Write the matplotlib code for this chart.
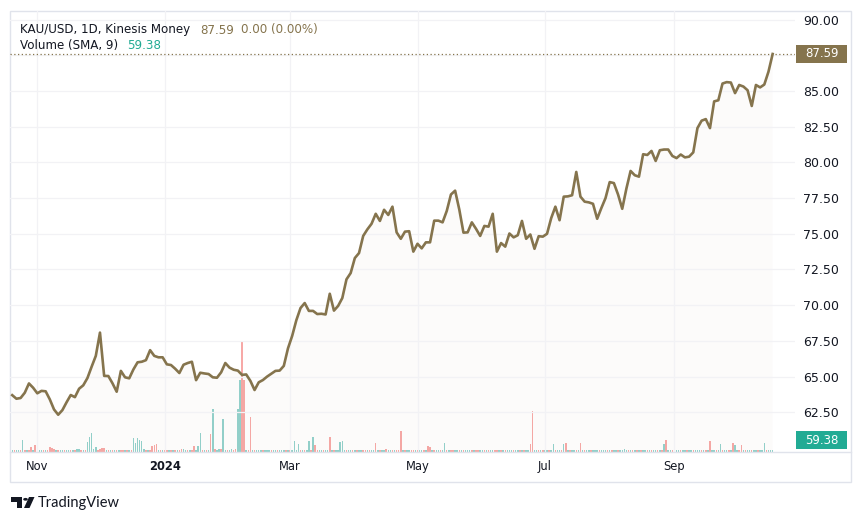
import numpy as np
import pandas as pd
import matplotlib
matplotlib.use("Agg")
import matplotlib.pyplot as plt
import matplotlib.dates as mdates
from matplotlib.patches import Rectangle, Polygon, Circle
from matplotlib.lines import Line2D

# KAU/USD close, one value every 2 days from 2023-10-20
price = [
    63.70, 63.45, 63.50, 63.87, 64.52, 64.22, 63.83, 64.00, 63.97, 63.40,
    62.70, 62.33, 62.65, 63.20, 63.71, 63.56, 64.15, 64.39, 64.90, 65.69,
    66.45, 68.08, 65.05, 65.04, 64.53, 63.94, 65.40, 64.95, 64.88, 65.50,
    66.00, 66.04, 66.15, 66.85, 66.45, 66.35, 66.35, 65.86, 65.81, 65.55,
    65.25, 65.83, 65.95, 66.04, 64.75, 65.27, 65.22, 65.18, 64.95, 64.92,
    65.30, 65.95, 65.63, 65.48, 65.42, 65.12, 65.15, 64.70, 64.06, 64.60,
    64.76, 65.00, 65.20, 65.40, 65.42, 65.75, 66.98, 67.85, 68.95, 69.80,
    70.15, 69.60, 69.60, 69.38, 69.40, 69.35, 70.80, 69.62, 69.95, 70.50,
    71.81, 72.25, 73.30, 73.65, 74.85, 75.31, 75.70, 76.40, 75.90, 76.68,
    76.32, 76.90, 75.10, 74.65, 75.15, 75.18, 73.75, 74.30, 73.98, 74.40,
    74.40, 75.92, 75.92, 75.80, 76.60, 77.75, 78.02, 76.70, 75.08, 75.10,
    75.80, 75.35, 74.85, 75.55, 75.50, 76.40, 73.75, 74.35, 74.10, 75.02,
    74.75, 74.90, 75.90, 74.65, 74.95, 73.95, 74.83, 74.80, 75.00, 76.10,
    76.90, 75.95, 77.60, 77.62, 77.70, 79.33, 77.60, 77.25, 77.20, 77.10,
    76.05, 76.80, 77.50, 78.62, 78.55, 77.75, 76.75, 78.17, 79.40, 79.10,
    79.00, 80.57, 80.52, 80.80, 80.10, 80.85, 80.90, 80.90, 80.45, 80.30,
    80.55, 80.35, 80.40, 80.70, 82.40, 82.92, 83.03, 82.40, 84.27, 84.35,
    85.52, 85.62, 85.59, 84.85, 85.42, 85.31, 85.05, 83.95, 85.42, 85.25,
    85.45, 86.35, 87.59,
]
price_dates = pd.date_range("2023-10-20", periods=len(price), freq="2D")

# daily volume from 2023-10-19
volume = [
    10, 10, 10, 10, 10, 10, 58, 10, 10, 10, 25, 10, 35, 35, 10, 10, 10, 10, 10, 25,
    20, 15, 10, 10, 10, 10, 10, 10, 10, 10, 10, 10, 15, 13, 10, 10, 10, 50, 75, 95,
    13, 25, 10, 13, 18, 18, 10, 10, 10, 10, 10, 10, 10, 10, 10, 10, 10, 10, 10, 70,
    45, 70, 58, 55, 13, 10, 10, 10, 30, 35, 42, 10, 10, 10, 10, 10, 10, 10, 10, 10,
    10, 10, 13, 13, 10, 10, 10, 10, 30, 10, 30, 97, 10, 10, 10, 10, 92, 217, 13, 10,
    13, 13, 167, 10, 10, 10, 13, 10, 13, 217, 360, 550, 360, 10, 10, 175, 10, 10, 10, 10,
    10, 10, 10, 10, 10, 10, 10, 10, 10, 10, 10, 10, 10, 10, 10, 10, 53, 10, 40, 10,
    10, 10, 10, 53, 12, 73, 33, 10, 10, 10, 10, 10, 10, 73, 10, 10, 10, 10, 48, 53,
    10, 10, 10, 10, 10, 10, 10, 10, 10, 10, 10, 10, 10, 10, 10, 45, 10, 10, 10, 10,
    17, 10, 10, 10, 10, 10, 10, 103, 10, 10, 10, 10, 10, 10, 10, 10, 10, 10, 10, 10,
    28, 23, 10, 10, 10, 10, 10, 10, 45, 10, 10, 10, 10, 10, 10, 10, 10, 10, 10, 10,
    10, 10, 10, 10, 10, 10, 10, 10, 10, 10, 10, 10, 10, 10, 10, 10, 10, 10, 10, 10,
    10, 10, 10, 10, 10, 10, 10, 10, 10, 40, 203, 10, 10, 10, 10, 10, 10, 10, 10, 10,
    40, 10, 10, 10, 10, 40, 45, 10, 10, 10, 10, 10, 10, 45, 10, 10, 10, 10, 10, 10,
    10, 10, 10, 10, 10, 10, 10, 10, 10, 10, 10, 10, 10, 10, 15, 10, 10, 10, 10, 10,
    10, 10, 10, 10, 10, 10, 10, 10, 10, 10, 10, 10, 10, 40, 58, 10, 10, 10, 10, 10,
    10, 10, 10, 10, 10, 10, 10, 10, 10, 10, 10, 10, 10, 10, 10, 53, 10, 10, 10, 10,
    40, 10, 10, 10, 10, 10, 45, 33, 10, 10, 33, 10, 10, 10, 10, 10, 10, 10, 10, 10,
    10, 45, 10, 10, 10, 10,
]
# g = up day, r = down day
vol_dir = (
    "ggrggrgrgrrgrrggrgrr" "rrgrggrggrgrggrgrggg" "ggrrrrgrgrgrgrrgrgrg"
    "gggggrgrrrrgrgrrgrgr" "grrggrgrrgggrgrgrgrg" "grggrggrrggrrgrrgrgg"
    "grgggrggrgggrgrggggr" "grggrgrrggrggrgrgggg" "grggrgrggrrgrggrgrgg"
    "rggrgrrrgrggrrgrggrg" "rrgrggrggrgrrggrgrgg" "grgrrggrgrggrrgrgrgg"
    "grggrgrggrrggrgrggrg" "grggrgrgrggrgrgrggrg" "ggrgggrgrggrggggrgrg"
    "rgrggrgrggrgrgrggrgg" "grggrggrgggrgrgrggrg" "grggrgrggrrgrggrggrg"
    "ggrggg"
)
vol_dates = pd.date_range("2023-10-19", periods=len(volume), freq="D")

tick_dates = ["2023-11-01", "2024-01-01", "2024-03-01", "2024-05-01", "2024-07-01", "2024-09-01"]
tick_labels = ["Nov", "2024", "Mar", "May", "Jul", "Sep"]
price_ticks = [62.5, 65.0, 67.5, 70.0, 72.5, 75.0, 77.5, 80.0, 82.5, 85.0, 87.5, 90.0]
last_price = 87.59
vol_sma = 59.38

GOLD = "#85744d"
TEAL = "#22ab94"
TXT = "#131722"
GRID = "#f2f2f5"
FRAME = "#e0e3eb"
UP, DOWN = "#93d2cc", "#f7a9a7"

W, H = 863, 522
fx = lambda px: px / W
fy = lambda py: 1 - py / H

fig = plt.figure(figsize=(W / 100, H / 100), dpi=100)
fig.patch.set_facecolor("white")

ax = fig.add_axes([fx(10), fy(452), fx(795) - fx(10), fy(11) - fy(452)])
axv = ax.twinx()
ax.set_zorder(axv.get_zorder() + 1)
ax.patch.set_visible(False)

# volume
axv.bar(vol_dates, volume, width=0.7, linewidth=0,
        color=[UP if c == "g" else DOWN for c in vol_dir])
axv.set_ylim(0, 2205)
axv.set_yticks([])
for s in axv.spines.values():
    s.set_visible(False)

# price
ax.fill_between(price_dates, price, 0, color=GOLD, alpha=0.025, linewidth=0)
ax.plot(price_dates, price, color=GOLD, lw=1.9, solid_joinstyle="round")
ax.axhline(last_price, color=GOLD, lw=0.9, ls=(0, (1, 2)))

x0 = mdates.date2num(pd.Timestamp("2023-10-19"))
ax.set_xlim(x0 - 0.07, x0 + 375.7)
ax.set_ylim(59.72, 90.60)

ax.set_xticks(mdates.date2num(pd.to_datetime(tick_dates)))
ax.set_xticklabels(tick_labels)
for lab in ax.get_xticklabels():
    if lab.get_text() == "2024":
        lab.set_fontweight("bold")
ax.yaxis.tick_right()
ax.set_yticks(price_ticks)
# the 87.50 label is hidden behind the last-price tag, as on the scale
ax.set_yticklabels(["" if abs(v - last_price) < 1 else f"{v:.2f}" for v in price_ticks])
ax.tick_params(axis="x", length=0, pad=6, labelsize=8.3, labelcolor=TXT)
ax.tick_params(axis="y", length=0, pad=5.8, labelsize=9, labelcolor=TXT)
ax.grid(color=GRID, lw=0.9)
for s in ax.spines.values():
    s.set_visible(False)

# last value labels on the scale
ytr = ax.get_yaxis_transform()
ax.add_patch(Rectangle((1.0013, last_price - 0.63), 0.065, 1.26, transform=ytr,
                       facecolor=GOLD, edgecolor="none", clip_on=False))
ax.text(1.0338, last_price, f"{last_price:.2f}", transform=ytr, ha="center",
        va="center", color="white", fontsize=8.5)
vtr = axv.get_yaxis_transform()
axv.add_patch(Rectangle((1.0013, vol_sma - 45), 0.065, 90, transform=vtr,
                        facecolor=TEAL, edgecolor="none", clip_on=False))
axv.text(1.0338, vol_sma, f"{vol_sma:.2f}", transform=vtr, ha="center",
         va="center", color="white", fontsize=8.5)

# frame
fig.add_artist(Rectangle((fx(10), fy(482)), fx(851) - fx(10), fy(11) - fy(482),
                         transform=fig.transFigure, fill=False, edgecolor=FRAME, lw=1))
fig.add_artist(Line2D([fx(10), fx(851)], [fy(452), fy(452)],
                      transform=fig.transFigure, color=FRAME, lw=1))

# legend
fig.text(fx(20), fy(30), "KAU/USD, 1D, Kinesis Money", fontsize=8.6, color=TXT, va="center")
fig.text(fx(200), fy(30), f"{last_price:.2f}", fontsize=8.6, color=GOLD, va="center")
fig.text(fx(241), fy(30), "0.00 (0.00%)", fontsize=8.6, color=GOLD, va="center")
fig.text(fx(20), fy(45.5), "Volume (SMA, 9)", fontsize=8.6, color=TXT, va="center")
fig.text(fx(127), fy(45.5), f"{vol_sma:.2f}", fontsize=8.6, color=TEAL, va="center")

# TradingView logo
def px_poly(pts):
    return Polygon([(fx(a), fy(b)) for a, b in pts], closed=True,
                   transform=fig.transFigure, facecolor=TXT, edgecolor="none")
fig.add_artist(px_poly([(11, 497), (22, 497), (22, 508), (17, 508), (17, 501.5), (11, 501.5)]))
fig.add_artist(Circle((fx(25.5), fy(499.3)), 2.3 / W, transform=fig.transFigure,
                      facecolor=TXT, edgecolor="none"))
fig.add_artist(px_poly([(29, 497), (34.5, 497), (29.5, 508), (24, 508)]))
fig.text(fx(37.5), fy(503), "TradingView", fontsize=10.5, color=TXT, va="center",
         family="Lato")

fig.savefig("out.png", dpi=100)
